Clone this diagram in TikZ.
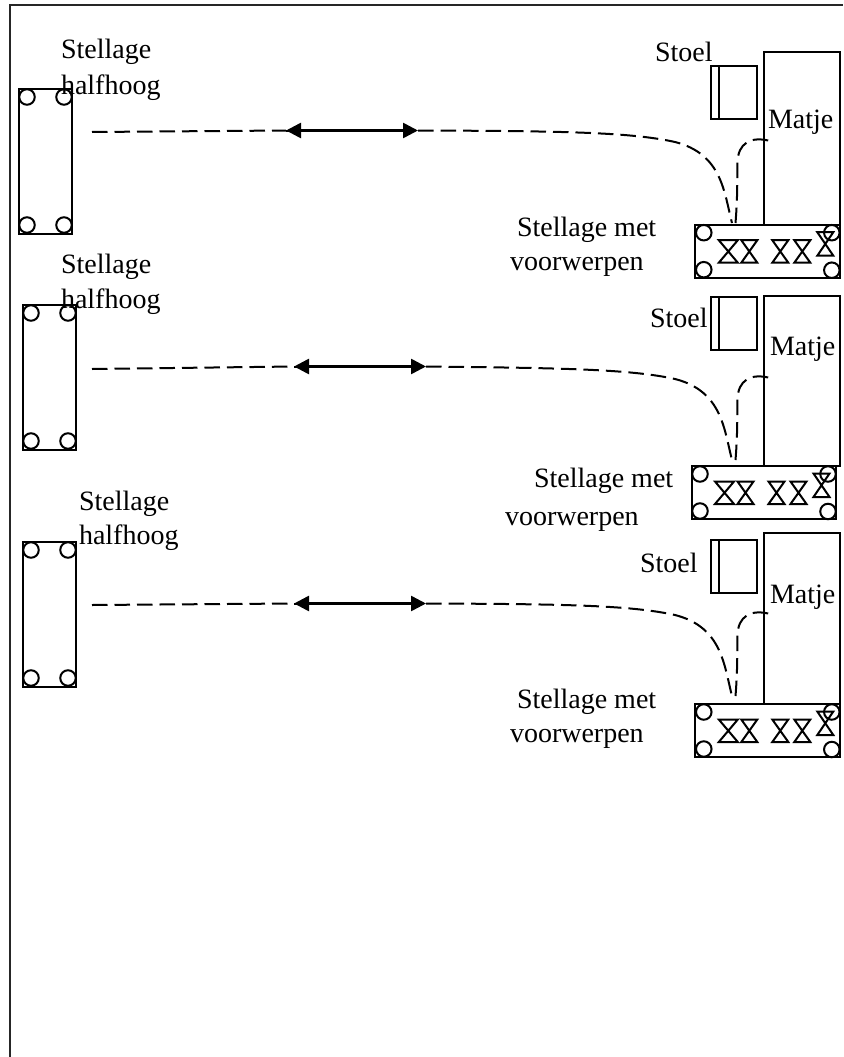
\documentclass[tikz,border=0pt]{standalone}
\usepackage{fontspec}
\setmainfont{Liberation Serif}
\usetikzlibrary{arrows.meta,calc}
\tikzset{
  x=1pt,y=-1pt,
  wheel/.style={circle,draw=black,line width=2pt,inner sep=0pt,minimum size=15.5pt,outer sep=0pt},
  lbl/.style={anchor=base west,inner sep=0pt,outer sep=0pt,font=\fontsize{28pt}{32pt}\selectfont,text=black},
  walk/.style={line width=2pt,dash pattern=on 15.5pt off 7pt},
  dbl/.style={line width=2.6pt,{Triangle[length=15pt,width=15pt]}-{Triangle[length=15pt,width=15pt]}},
  hglass/.style={line width=2pt,line join=miter},
  frame/.style={line width=2pt,draw=black!85}
}
\newcommand{\rectnode}[5]{%
  \path let \p1=(#2,#3), \p2=(#4,#5) in
    node[draw=black,line width=2pt,inner sep=0pt,outer sep=0pt,anchor=north west,
         minimum width=\x2-\x1,minimum height=\y1-\y2] (#1) at (#2,#3) {};}
\newcommand{\hourglass}[4]{%
  \draw[hglass] ({#1-#4},#2) -- ({#1+#4},#2) -- ({#1-#4},#3) -- ({#1+#4},#3) -- cycle;}
\newcommand{\siderack}[3]{%
  \rectnode{#1r}{#2}{#3}{#2+53.5}{#3+144.5}
  \node[wheel] (#1a) at (#2+8.5,#3+8) {};
  \node[wheel] (#1b) at (#2+45.5,#3+8) {};
  \node[wheel] (#1c) at (#2+8.5,#3+136) {};
  \node[wheel] (#1d) at (#2+45.5,#3+136) {};}
\newcommand{\objrack}[3]{%
  \rectnode{#1s}{#2}{#3}{#2+144.5}{#3+53}
  \node[wheel] (#1e) at (#2+8.5,#3+8) {};
  \node[wheel] (#1f) at (#2+8.5,#3+45) {};
  \node[wheel] (#1g) at (#2+136.5,#3+8) {};
  \node[wheel] (#1h) at (#2+136.5,#3+45.5) {};
  \hourglass{#2+33}{#3+15.5}{#3+38}{9.5}
  \hourglass{#2+54}{#3+15.5}{#3+38}{8}
  \hourglass{#2+85}{#3+15.5}{#3+38}{8}
  \hourglass{#2+107}{#3+15.5}{#3+38}{8}
  \hourglass{#2+130}{#3+7.5}{#3+31}{8}}
\newcommand{\chair}[3]{%
  \rectnode{#1t}{#2}{#3}{#2+46}{#3+53}
  \draw[line width=2pt] ($(#1t.north west)+(8,0)$) -- ($(#1t.south west)+(8,0)$);}
\newcommand{\route}[5]{%
  \coordinate (#1p) at (92,#4);
  \coordinate (#1q) at (#2,#5);
  \coordinate (#1u) at (#3,#5);
  \coordinate (#1v) at (732,#4+91);
  \coordinate (#1w) at (735.5,#4+91);
  \coordinate (#1z) at (772,#4+9.5);
  \draw[walk] (#1p) -- (#1q);
  \draw[walk] (#1q) -- (#1u);
  \draw[walk] (#1u) .. controls (560,#4-1) and (630,#4) .. (675,#4+10)
      .. controls (722,#4+22) and (724,#4+60) .. (#1v);
  \draw[walk] (#1w) .. controls (738,#4+60) and (737,#4+40) .. (737.5,#4+30)
      .. controls (738,#4+12) and (750,#4+3) .. (#1z);
  \draw[dbl] (#1q) -- (#1u);}

\begin{document}
\begin{tikzpicture}
\useasboundingbox (0,0) rectangle (843,1057);
\coordinate (fa) at (9.5,1057);
\coordinate (fb) at (9.5,5.2);
\coordinate (fc) at (843,5.2);
\draw[frame] (fa) -- (fb) -- (fc);

% unit 1
\siderack{A}{18.5}{89}
\chair{A}{710.5}{66}
\rectnode{Am}{763.7}{52.5}{840}{225}
\objrack{A}{695.3}{224.7}
\route{A}{286}{418}{132}{130.5}
\node[lbl] (Al1) at (61,59) {Stellage};
\node[lbl] (Al2) at (61,94) {halfhoog};
\node[lbl] (Al3) at (655,62) {Stoel};
\node[lbl] (Al4) at (768,128) {Matje};
\node[lbl] (Al5) at (517,236) {Stellage met};
\node[lbl] (Al6) at (510,270) {voorwerpen};

% unit 2
\siderack{B}{22.5}{305}
\chair{B}{711}{297}
\rectnode{Bm}{764}{296}{840}{466}
\objrack{B}{691.5}{466}
\route{B}{294}{426}{369}{366.5}
\node[lbl] (Bl1) at (61,273) {Stellage};
\node[lbl] (Bl2) at (61,308) {halfhoog};
\node[lbl] (Bl3) at (650,327) {Stoel};
\node[lbl] (Bl4) at (770,355) {Matje};
\node[lbl] (Bl5) at (534,487) {Stellage met};
\node[lbl] (Bl6) at (505,525) {voorwerpen};

% unit 3
\siderack{C}{22.5}{542}
\chair{C}{711}{540}
\rectnode{Cm}{764}{533}{840}{704}
\objrack{C}{695.3}{704}
\route{C}{294}{426}{605}{603.5}
\node[lbl] (Cl1) at (79,510) {Stellage};
\node[lbl] (Cl2) at (79,544) {halfhoog};
\node[lbl] (Cl3) at (640,572) {Stoel};
\node[lbl] (Cl4) at (770,603) {Matje};
\node[lbl] (Cl5) at (517,708) {Stellage met};
\node[lbl] (Cl6) at (510,742) {voorwerpen};
\end{tikzpicture}
\end{document}
